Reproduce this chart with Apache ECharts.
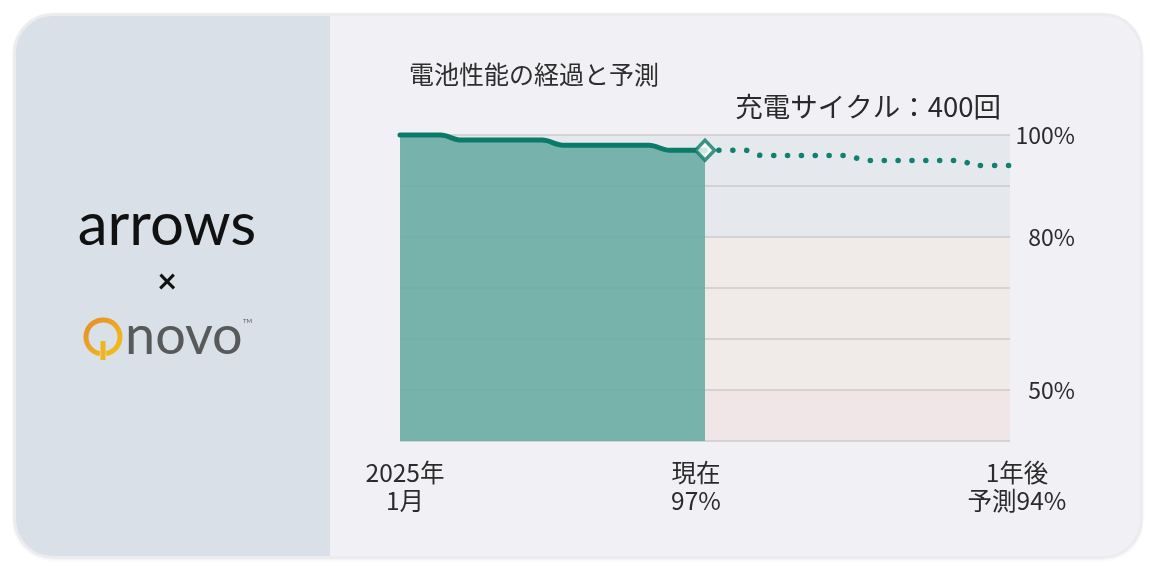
<!DOCTYPE html>
<html>
<head>
<meta charset="utf-8">
<script src="https://cdn.jsdelivr.net/npm/echarts@6/dist/echarts.min.js"></script>
<style>
  html, body { margin: 0; padding: 0; background: #ffffff; }
  #wrap { position: relative; width: 1150px; height: 570px; }
  #card {
    position: absolute; left: 13px; top: 13px; width: 1124px; height: 540px;
    border-radius: 40px; border: 3px solid #ececee;
    background: linear-gradient(to right, #d9e0e8 0px, #d9e0e8 314px, #f0f0f5 314px, #f0f0f5 100%);
    box-shadow: 0 1px 3px rgba(0,0,0,0.06);
  }
  #chart { position: absolute; left: 0; top: 0; width: 1150px; height: 570px; }
</style>
</head>
<body>
<div id="wrap">
  <div id="card"></div>
  <div id="chart"></div>
</div>
<script>
// ---- data ----
const chartTitle = '電池性能の経過と予測';
const cycleLabel = '充電サイクル：400回';
const historyX = [0, 1.6, 2.4, 5.6, 6.4, 9.8, 10.6, 12];
const historyY = [100, 100, 99, 99, 98, 98, 97, 97];
const forecastX = [12, 13.6, 14.2, 17.5, 18.4, 22.0, 22.7, 24];
const forecastY = [97, 97, 96, 96, 95, 95, 94, 94];
const currentPoint = [12, 97];
const xTickValues = [0, 12, 24];
const xTickLabels = ['2025年\n1月', '現在\n97%', '1年後\n予測94%'];
const yLabelValues = [100, 80, 50];

const pair = (xs, ys) => xs.map((x, i) => [x, ys[i]]);

const chart = echarts.init(document.getElementById('chart'), null, { renderer: 'canvas' });
const JP = '"Noto Sans CJK JP", "Noto Sans", sans-serif';
const teal = '#0b7a69';

const option = {
  backgroundColor: 'transparent',
  animation: false,
  textStyle: { fontFamily: JP },
  title: [
    { text: chartTitle, left: 404, top: 57,
      textStyle: { fontSize: 25, fontWeight: 'normal', color: '#2e2e2e', fontFamily: JP } },
    { text: cycleLabel, right: 144, top: 88,
      textStyle: { fontSize: 27.5, fontWeight: 'normal', color: '#2a2a2a', fontFamily: JP } }
  ],
  grid: { left: 400, right: 140, top: 135, bottom: 129, containLabel: false },
  xAxis: {
    type: 'value', min: 0, max: 24,
    axisLine: { show: false }, axisTick: { show: false }, splitLine: { show: false },
    axisLabel: {
      customValues: xTickValues,
      margin: 18,
      color: '#2b2b2b',
      fontSize: 24.5,
      lineHeight: 28,
      fontFamily: JP,
      formatter: function (v) {
        const i = xTickValues.indexOf(v);
        if (i < 0) return '';
        const styles = ['a', 'b', 'c'];
        return xTickLabels[i].split('\n').map(s => '{' + styles[i] + '|' + s + '}').join('\n');
      },
      rich: {
        a: { fontSize: 24.5, lineHeight: 28, color: '#2b2b2b', padding: [0, 0, 0, 10], fontFamily: JP },
        b: { fontSize: 24.5, lineHeight: 28, color: '#2b2b2b', padding: [0, 18, 0, 0], fontFamily: JP },
        c: { fontSize: 24.5, lineHeight: 28, color: '#2b2b2b', padding: [0, 0, 0, 14], fontFamily: JP }
      }
    }
  },
  yAxis: {
    type: 'value', position: 'right', min: 40, max: 100, interval: 10,
    axisLine: { show: false }, axisTick: { show: false },
    axisLabel: {
      margin: 65, align: 'right', color: '#2b2b2b', fontSize: 23, fontFamily: JP,
      padding: [6, 0, 0, 0],
      formatter: v => (yLabelValues.indexOf(v) >= 0 ? v + '%' : '')
    },
    splitLine: { show: true, lineStyle: { color: '#cdcaca', width: 1.5 } },
    splitArea: {
      show: true,
      areaStyle: { color: ['#f0e6e7', '#f0ebe8', '#f0ebe8', '#f0ebe8', '#e5e9ed', '#e5e9ed'] }
    }
  },
  series: [
    {
      name: 'history', type: 'line', data: pair(historyX, historyY),
      smooth: 0.35, smoothMonotone: 'x', showSymbol: false, symbol: 'none', clip: false,
      lineStyle: { color: teal, width: 5, cap: 'round', join: 'round' },
      areaStyle: { color: '#64aaa1', opacity: 0.86, origin: 'start' },
      z: 3
    },
    {
      name: 'forecast', type: 'line', data: pair(forecastX, forecastY),
      smooth: 0.35, smoothMonotone: 'x', showSymbol: false, symbol: 'none', clip: false,
      lineStyle: { color: '#128070', width: 5.5, type: [0.1, 13.8], cap: 'round' },
      z: 3
    },
    {
      name: 'current', type: 'scatter', data: [currentPoint],
      symbol: 'diamond', symbolSize: [19, 20], clip: false,
      itemStyle: { color: '#ffffff', borderColor: teal, borderWidth: 3.5 },
      z: 5
    }
  ],
  graphic: [
    { type: 'text', x: 167, y: 226, z: 10,
      style: { text: 'arrows', font: '400 60px Lato, "Open Sans", sans-serif', fill: '#111111', align: 'center', verticalAlign: 'middle' } },
    { type: 'text', x: 167, y: 282, z: 10,
      style: { text: '×', font: 'bold 34px Lato, "DejaVu Sans", sans-serif', fill: '#111111', align: 'center', verticalAlign: 'middle' } },
    { type: 'arc', z: 10,
      shape: { cx: 103, cy: 337, r: 17, startAngle: Math.PI * 0.56, endAngle: Math.PI * 0.44 + Math.PI * 2 },
      style: {
        fill: 'none', lineWidth: 5,
        stroke: new echarts.graphic.LinearGradient(0, 0, 1, 1, [
          { offset: 0, color: '#e58a2c' }, { offset: 1, color: '#f2c417' }
        ])
      } },
    { type: 'line', z: 10,
      shape: { x1: 103, y1: 341, x2: 103, y2: 360 },
      style: { stroke: '#eeb51e', lineWidth: 5 } },
    { type: 'text', x: 125, y: 337, z: 10,
      style: { text: 'novo', font: '400 54px Lato, "Open Sans", sans-serif', fill: '#58595b', align: 'left', verticalAlign: 'middle' } },
    { type: 'text', x: 243, y: 318, z: 10,
      style: { text: 'TM', font: '6px Lato, sans-serif', fill: '#58595b', align: 'left', verticalAlign: 'top' } }
  ]
};
chart.setOption(option);
</script>
</body>
</html>
